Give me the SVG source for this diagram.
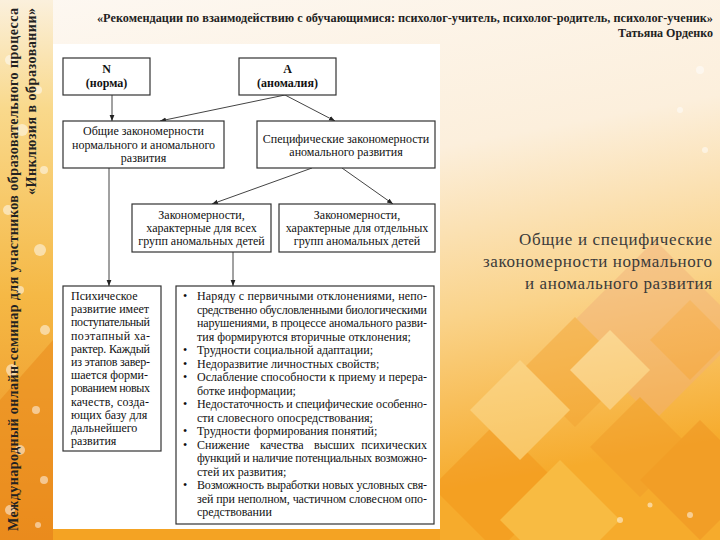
<svg xmlns="http://www.w3.org/2000/svg" width="720" height="540" viewBox="0 0 720 540">
<defs>
<style>
.box{fill:#fff;stroke:#333;stroke-width:1.2}
.t{font-family:"Liberation Serif","DejaVu Serif",serif;font-size:12px;fill:#111}
.c{text-anchor:middle}
.b{font-weight:bold}
.con{stroke:#444;stroke-width:1;fill:none}
.hd{font-family:"Liberation Serif","DejaVu Serif",serif;font-weight:bold;fill:#222}
.rt{font-family:"Liberation Serif","DejaVu Serif",serif;font-size:17px;fill:#3a3a3a;text-anchor:end}
.bk{fill:#fff}
</style>
<marker id="ah" viewBox="0 0 10 10" refX="10" refY="5" markerWidth="6" markerHeight="6" orient="auto" markerUnits="userSpaceOnUse"><path d="M0,1 L10,5 L0,9 z" fill="#222"/></marker>
<linearGradient id="bg" x1="0" y1="0" x2="0.25" y2="1">
<stop offset="0" stop-color="#fdf8f2"/>
<stop offset="0.4" stop-color="#fcefdc"/>
<stop offset="0.7" stop-color="#fad38a"/>
<stop offset="1" stop-color="#f6ab2c"/>
</linearGradient>
<linearGradient id="strip" x1="0" y1="0" x2="0" y2="1">
<stop offset="0" stop-color="#fbf0dc"/>
<stop offset="0.2" stop-color="#f9d98c"/>
<stop offset="0.55" stop-color="#f5b845"/>
<stop offset="1" stop-color="#ec8c1e"/>
</linearGradient>
</defs>
<rect width="720" height="540" fill="url(#bg)"/>
<rect x="0" y="0" width="53" height="540" fill="url(#strip)"/>
<polygon points="0,400 53,340 53,540 0,540" fill="#e98a1c" opacity="0.55"/>
<g opacity="0.45">
<polygon points="655,240 745,330 655,420 565,330" fill="#f1b07a"/>
<polygon points="575,317 630,372 575,427 520,372" fill="#f2a232"/>
<polygon points="640,397 690,447 640,497 590,447" fill="#f09a28"/>
<polygon points="497,422 562,487 497,552 432,487" fill="#f29318"/>
<polygon points="700,420 760,480 700,540 640,480" fill="#ee9020"/>
<polygon points="560,460 620,520 560,580 500,520" fill="#fbcf5e"/>
<polygon points="520,360 570,410 520,460 470,410" fill="#fde3a0"/>
<polygon points="610,330 650,370 610,410 570,370" fill="#fde8b8"/>
<polygon points="690,300 730,340 690,380 650,340" fill="#f3a04a"/>
</g>
<g fill="#fff" opacity="0.5">
<circle cx="10" cy="60" r="5"/><circle cx="38" cy="90" r="4"/><circle cx="22" cy="130" r="6"/>
<circle cx="44" cy="170" r="4"/><circle cx="8" cy="210" r="5"/><circle cx="40" cy="250" r="6"/>
<circle cx="20" cy="290" r="4"/><circle cx="45" cy="330" r="5"/><circle cx="12" cy="370" r="6"/>
<circle cx="36" cy="410" r="4"/><circle cx="20" cy="450" r="5"/><circle cx="44" cy="480" r="4"/>
<circle cx="10" cy="510" r="5"/><circle cx="38" cy="525" r="3"/>
<circle cx="620" cy="520" r="3"/><circle cx="650" cy="505" r="2.5"/><circle cx="690" cy="515" r="3"/>
<circle cx="700" cy="70" r="4"/><circle cx="680" cy="110" r="3"/><circle cx="705" cy="150" r="3"/>
</g>
<rect x="53" y="529" width="387" height="11" fill="#f4a323"/>
<rect x="53" y="44" width="387" height="485" fill="#fff"/>

<text class="hd" x="97" y="22" font-size="12" textLength="616" lengthAdjust="spacingAndGlyphs">«Рекомендации по взаимодействию с обучающимися: психолог-учитель, психолог-родитель, психолог-ученик»</text>
<text class="hd" x="713" y="37" font-size="12" text-anchor="end">Татьяна Орденко</text>
<text class="hd" font-size="14" transform="translate(18,531) rotate(-90)" textLength="523" lengthAdjust="spacing">Международный онлайн-семинар для участников образовательного процесса</text>
<text class="hd" font-size="14" transform="translate(36,8) rotate(-90)" text-anchor="end" textLength="187" lengthAdjust="spacing">«Инклюзия в образовании»</text>

<text class="rt" x="712" y="245" textLength="193" lengthAdjust="spacing">Общие и специфические</text>
<text class="rt" x="712" y="267" textLength="229" lengthAdjust="spacing">закономерности нормального</text>
<text class="rt" x="712" y="289" textLength="187" lengthAdjust="spacing">и аномального развития</text>

<g id="connectors">
<line class="con" x1="112" y1="95" x2="112" y2="121" marker-end="url(#ah)"/>
<line class="con" x1="285" y1="95" x2="160" y2="121" marker-end="url(#ah)"/>
<line class="con" x1="285" y1="95" x2="335" y2="121" marker-end="url(#ah)"/>
<line class="con" x1="312" y1="168" x2="212" y2="204" marker-end="url(#ah)"/>
<line class="con" x1="342" y1="168" x2="393" y2="204" marker-end="url(#ah)"/>
<line class="con" x1="109" y1="168" x2="109" y2="286" marker-end="url(#ah)"/>
<line class="con" x1="233" y1="252" x2="233" y2="286" marker-end="url(#ah)"/>
</g>

<g id="n-norma">
<rect class="box" x="63" y="58" width="87" height="37"/>
<text class="t c b" x="106.5" y="73">N</text>
<text class="t c b" x="106.5" y="87">(норма)</text>
</g>
<g id="n-anomaly">
<rect class="box" x="239" y="58" width="97" height="37"/>
<text class="t c b" x="287.5" y="73">A</text>
<text class="t c b" x="287.5" y="87">(аномалия)</text>
</g>
<g id="n-general">
<rect class="box" x="63" y="121" width="161" height="47"/>
<text class="t c" x="143.5" y="135">Общие закономерности</text>
<text class="t c" x="143.5" y="148.5">нормального и аномального</text>
<text class="t c" x="143.5" y="162">развития</text>
</g>
<g id="n-specific">
<rect class="box" x="257" y="121" width="178" height="47"/>
<text class="t c" x="346" y="143">Специфические закономерности</text>
<text class="t c" x="346" y="156">аномального развития</text>
</g>
<g id="n-allgroups">
<rect class="box" x="132" y="204" width="139" height="48"/>
<text class="t c" x="201.5" y="219">Закономерности,</text>
<text class="t c" x="201.5" y="232">характерные для всех</text>
<text class="t c" x="201.5" y="245">групп аномальных детей</text>
</g>
<g id="n-separate">
<rect class="box" x="279" y="204" width="156" height="48"/>
<text class="t c" x="357" y="219">Закономерности,</text>
<text class="t c" x="357" y="232">характерные для отдельных</text>
<text class="t c" x="357" y="245">групп аномальных детей</text>
</g>
<g id="n-psych">
<rect class="box" x="63" y="286" width="98" height="165"/>
<text class="t" x="71" y="300">Психическое</text>
<text class="t" x="71" y="313.2">развитие имеет</text>
<text class="t" x="71" y="326.4" textLength="79" lengthAdjust="spacing">поступательный</text>
<text class="t" x="71" y="339.6" textLength="79" lengthAdjust="spacing">поэтапный ха-</text>
<text class="t" x="71" y="352.8" textLength="79" lengthAdjust="spacing">рактер. Каждый</text>
<text class="t" x="71" y="366" textLength="79" lengthAdjust="spacing">из этапов завер-</text>
<text class="t" x="71" y="379.2" textLength="77" lengthAdjust="spacing">шается форми-</text>
<text class="t" x="71" y="392.4" textLength="79" lengthAdjust="spacing">рованием новых</text>
<text class="t" x="71" y="405.6" textLength="78" lengthAdjust="spacing">качеств, созда-</text>
<text class="t" x="71" y="418.8">ющих базу для</text>
<text class="t" x="71" y="432">дальнейшего</text>
<text class="t" x="71" y="445.2">развития</text>
</g>
<g id="n-list">
<rect class="box" x="176" y="286" width="258" height="238"/>
<text class="t c" x="185" y="300">•</text>
<text class="t c" x="185" y="354">•</text>
<text class="t c" x="185" y="367.5">•</text>
<text class="t c" x="185" y="381">•</text>
<text class="t c" x="185" y="408">•</text>
<text class="t c" x="185" y="435">•</text>
<text class="t c" x="185" y="448.5">•</text>
<text class="t c" x="185" y="489">•</text>
<text class="t" x="197" y="300" textLength="230" lengthAdjust="spacing">Наряду с первичными отклонениями, непо-</text>
<text class="t" x="197" y="313.5" textLength="230" lengthAdjust="spacing">средственно обусловленными биологическими</text>
<text class="t" x="197" y="327" textLength="230" lengthAdjust="spacing">нарушениями, в процессе аномального разви-</text>
<text class="t" x="197" y="340.5">тия формируются вторичные отклонения;</text>
<text class="t" x="197" y="354">Трудности социальной адаптации;</text>
<text class="t" x="197" y="367.5">Недоразвитие личностных свойств;</text>
<text class="t" x="197" y="381" textLength="230" lengthAdjust="spacing">Ослабление способности к приему и перера-</text>
<text class="t" x="197" y="394.5">ботке информации;</text>
<text class="t" x="197" y="408" textLength="230" lengthAdjust="spacing">Недостаточность и специфические особенно-</text>
<text class="t" x="197" y="421.5">сти словесного опосредствования;</text>
<text class="t" x="197" y="435">Трудности формирования понятий;</text>
<text class="t" x="197" y="448.5">Снижение</text>
<text class="t" x="260" y="448.5">качества</text>
<text class="t" x="314" y="448.5">высших</text>
<text class="t" x="427" y="448.5" text-anchor="end">психических</text>
<text class="t" x="197" y="462" textLength="230" lengthAdjust="spacing">функций и наличие потенциальных возможно-</text>
<text class="t" x="197" y="475.5">стей их развития;</text>
<text class="t" x="197" y="489" textLength="230" lengthAdjust="spacing">Возможность выработки новых условных свя-</text>
<text class="t" x="197" y="502.5" textLength="230" lengthAdjust="spacing">зей при неполном, частичном словесном опо-</text>
<text class="t" x="197" y="516">средствовании</text>
</g>
</svg>
